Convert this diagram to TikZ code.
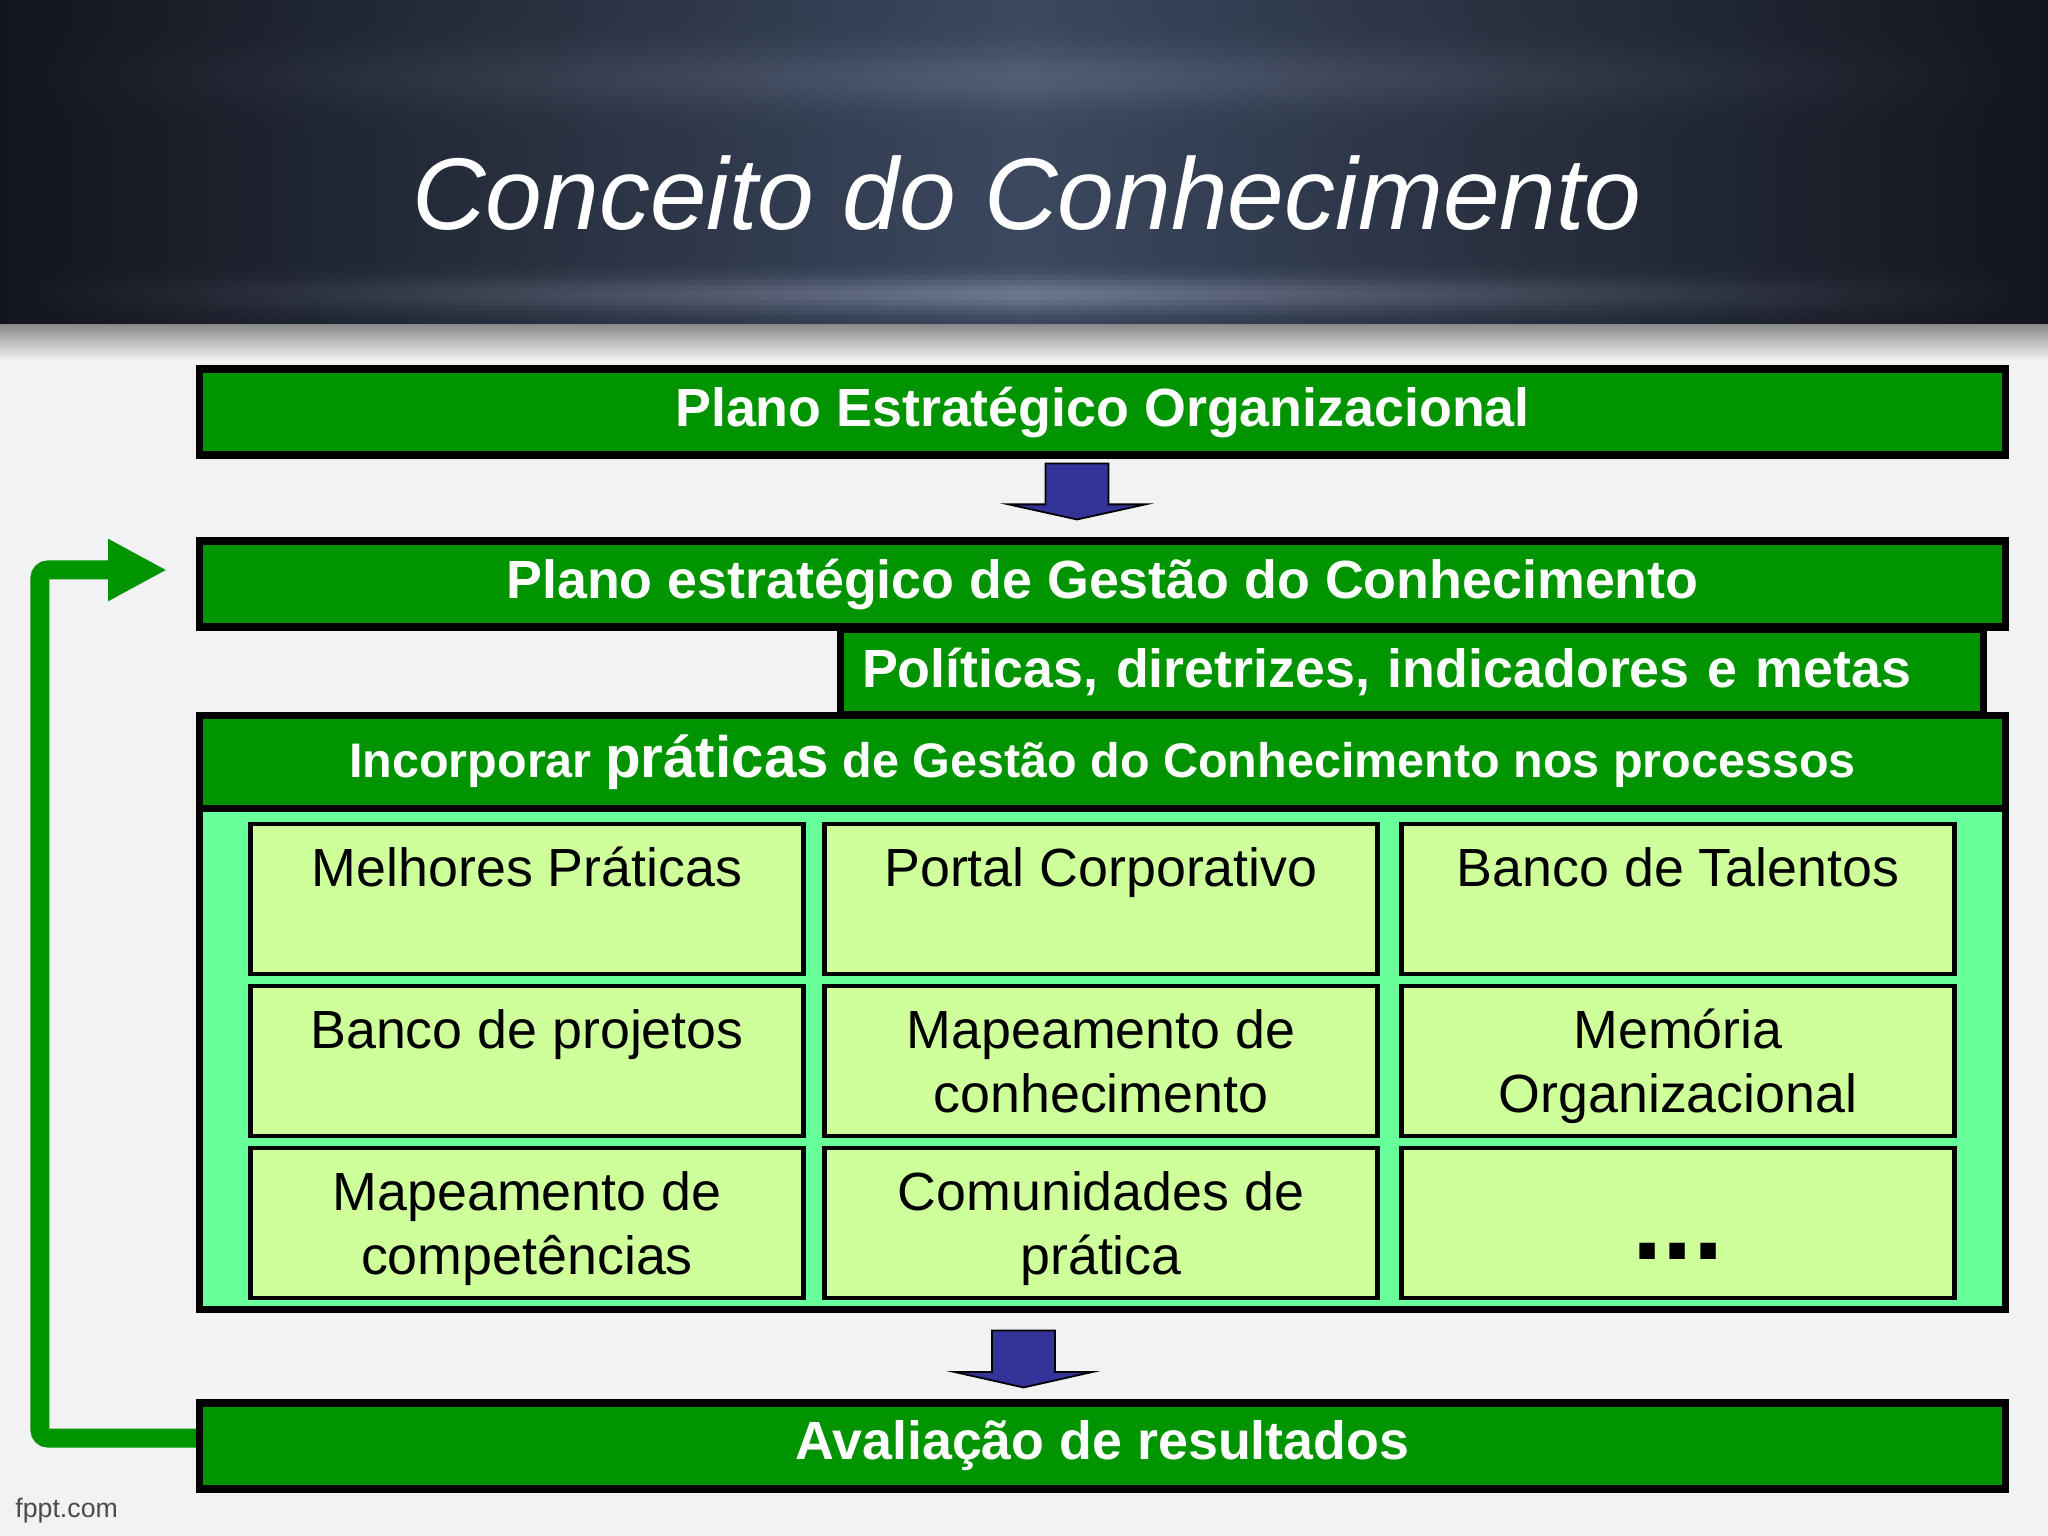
\documentclass[tikz,border=0pt]{standalone}
\usepackage{fontspec}
\setmainfont{Liberation Sans}
\usetikzlibrary{positioning,calc,arrows.meta}

\definecolor{boxgreen}{RGB}{0,148,0}
\definecolor{lightgreen}{RGB}{102,255,153}
\definecolor{cellgreen}{RGB}{206,255,155}
\definecolor{arrowblue}{RGB}{51,51,153}
\definecolor{slidebg}{RGB}{242,241,244}
\definecolor{headdark}{RGB}{18,21,29}
\definecolor{headmid}{RGB}{60,72,95}
\definecolor{headband}{RGB}{125,135,160}

% text of a practice cell, top aligned
\newcommand{\celltext}[1]{\parbox[c][1.50cm][t]{5.53cm}{\centering\rule{0pt}{17.8pt}#1}}
% blue block arrow from #1 down to the tip #2
\newcommand{\blockarrow}[2]{%
  \draw[ArrowStyle] ($(#1)+(-0.315,0)$) -- ($(#1)+(0.315,0)$) -- ($(#1)!0.73!(#2)+(0.315,0)$)
    -- ($(#1)!0.73!(#2)+(0.685,0)$) -- (#2) -- ($(#1)!0.73!(#2)+(-0.685,0)$)
    -- ($(#1)!0.73!(#2)+(-0.315,0)$) -- cycle;}

\begin{document}
\begin{tikzpicture}
			\tikzstyle{BarStyle}   = [draw=black, line width=2pt, fill=boxgreen, text=white, inner sep=0pt,
			                          font=\bfseries\fontsize{15.3}{18}\selectfont, minimum width=18.06cm, minimum height=0.86cm]
			\tikzstyle{CellStyle}  = [draw=black, line width=1.3pt, fill=cellgreen, inner sep=0pt,
			                          font=\fontsize{15.3}{18.2}\selectfont]
			\tikzstyle{ArrowStyle} = [draw=black, line width=0.5pt, fill=arrowblue]
			\tikzstyle{LoopStyle}  = [draw=boxgreen, line width=0.19cm, rounded corners=0.08cm,
			                          -{Triangle[length=0.59cm,width=0.58cm]}]

			% slide background and title band
			\fill[slidebg] (0,0) rectangle (20.48,-15.36);
			\useasboundingbox (0,0) rectangle (20.48,-15.36);
			\foreach \i in {0,...,64} {
			  \pgfmathsetmacro\yy{\i*0.05}
			  \pgfmathtruncatemacro\bb{min(100,35*exp(-((\yy-0.75)/0.3)^2)+75*exp(-((\yy-2.92)/0.17)^2))}
			  \pgfmathtruncatemacro\dd{max(0,60-\yy*150)+max(0,(\yy-3.12)*500)}
			  \shade[left color=headdark, right color=headdark, middle color=headdark!\dd!headband!\bb!headmid]
			    (0,-\yy) rectangle (20.48,-\yy-0.052);
			}
			\shade[top color=black!45, bottom color=slidebg] (0,-3.25) rectangle (20.48,-3.6);
			\node[text=white, font=\itshape\fontsize{29}{34}\selectfont, anchor=base] (title) at (10.27,-2.30) {Conceito do Conhecimento};

			\node[BarStyle] (peo) at (11.025,-4.12) {Plano Estratégico Organizacional};
			\node[BarStyle] (pgc) at (11.025,-5.84) {Plano estratégico de Gestão do Conhecimento};
			\node[draw=black, line width=2pt, fill=lightgreen, inner sep=0pt, minimum width=18.06cm, minimum height=5.94cm] (prat) at (11.025,-10.125) {};
			\node[BarStyle, minimum height=0.93cm, font=\bfseries\fontsize{13.8}{18}\selectfont, anchor=north] (pratt) at (prat.north)
			  {Incorporar {\fontsize{16.6}{18}\selectfont práticas} de Gestão do Conhecimento nos processos};
			\node[BarStyle, minimum width=11.43cm, text width=11.0cm, align=left, inner xsep=0.215cm] (pol) at (14.12,-6.72) {Políticas, diretrizes, indicadores e metas};

			\node[CellStyle] (mel) at (5.27,-8.99) {\celltext{Melhores Práticas}};
			\node[CellStyle] (por) at (11.01,-8.99) {\celltext{Portal Corporativo}};
			\node[CellStyle] (tal) at (16.78,-8.99) {\celltext{Banco de Talentos}};
			\node[CellStyle] (prj) at (5.27,-10.61) {\celltext{Banco de projetos}};
			\node[CellStyle] (mco) at (11.01,-10.61) {\celltext{Mapeamento de\\conhecimento}};
			\node[CellStyle] (mem) at (16.78,-10.61) {\celltext{Memória\\Organizacional}};
			\node[CellStyle] (mcp) at (5.27,-12.23) {\celltext{Mapeamento de\\competências}};
			\node[CellStyle] (com) at (11.01,-12.23) {\celltext{Comunidades de\\prática}};
			\node[CellStyle] (etc) at (16.78,-12.23) {\celltext{\rule{0pt}{31.8pt}\fontsize{31}{31}\selectfont\bfseries ...}};

			% feedback loop, drawn under the last bar
			\coordinate (fb) at (1.67,-5.70);
			\draw[LoopStyle] (1.96,-14.38) -| (0.40,-5.70) -- (fb);
			\node[BarStyle] (ava) at (11.025,-14.46) {Avaliação de resultados};

			\coordinate (a1s) at ([xshift=-0.255cm,yshift=-0.05cm]peo.south);
			\coordinate (a1e) at ([xshift=-0.255cm,yshift=0.18cm]pgc.north);
			\blockarrow{a1s}{a1e}
			\coordinate (a2s) at ([xshift=-0.79cm,yshift=-0.175cm]prat.south);
			\coordinate (a2e) at ([xshift=-0.79cm,yshift=0.12cm]ava.north);
			\blockarrow{a2s}{a2e}

			\node[text=black!70, font=\fontsize{7.6}{9}\selectfont, anchor=base west] (fppt) at (0.03,-15.17) {fppt.com};
		\end{tikzpicture}
\end{document}
